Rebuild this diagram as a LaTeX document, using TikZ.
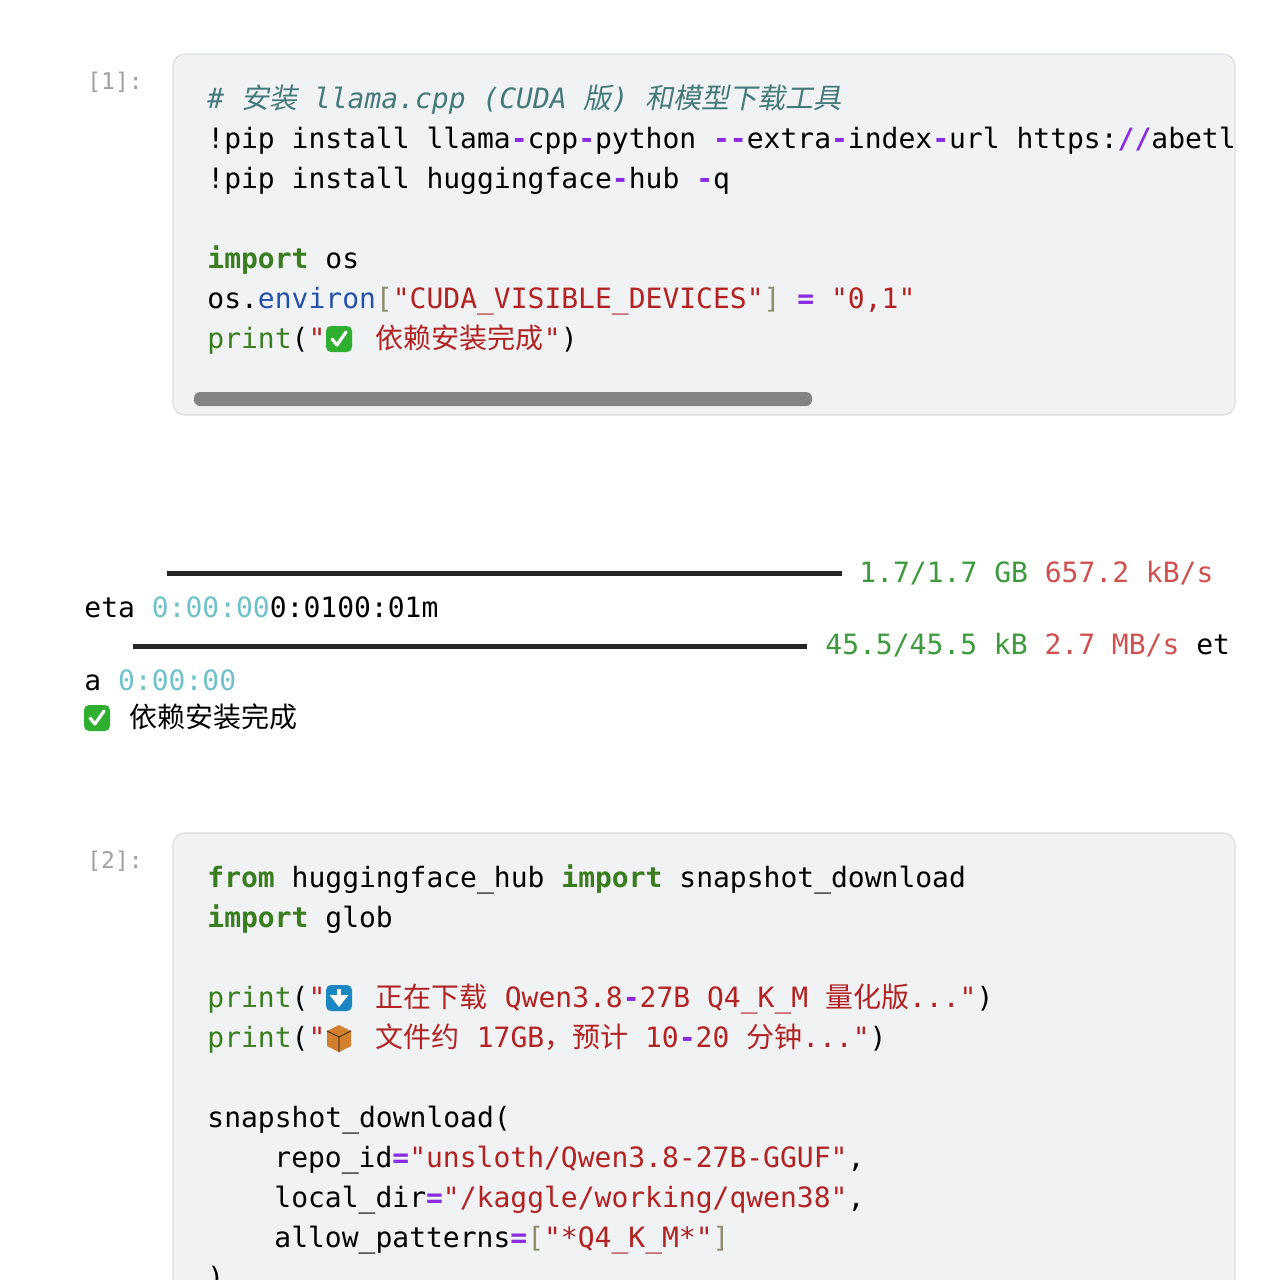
\documentclass[tikz,border=0pt]{standalone}
\usepackage{fontspec}
\usetikzlibrary{arrows.meta}
\setmonofont{DejaVu Sans Mono}
\setmainfont{Noto Sans}
\newfontfamily\cjk{Noto Sans CJK SC}
\newfontfamily\cjkit{Noto Sans CJK SC}[FakeSlant=0.2]
\usepackage{xcolor}
\definecolor{cellbg}{HTML}{F1F2F4}
\definecolor{cellrule}{HTML}{DCDDE0}
\definecolor{kw}{HTML}{3A7D1E}
\definecolor{str}{HTML}{B22222}
\definecolor{op}{HTML}{8A2BE2}
\definecolor{cmt}{HTML}{457A7A}
\definecolor{attr}{HTML}{2552A8}
\definecolor{brk}{HTML}{8F8F70}
\definecolor{ogreen}{HTML}{3C9A3C}
\definecolor{ored}{HTML}{D05050}
\definecolor{ocyan}{HTML}{6FC2CA}
\definecolor{prompt}{HTML}{A0A0A0}
\newcommand{\kw}[1]{\textcolor{kw}{\bfseries #1}}
\newcommand{\str}[1]{\textcolor{str}{#1}}
\newcommand{\op}[1]{\textcolor{op}{\bfseries #1}}
\newcommand{\zh}[1]{{\cjk #1}}
\newcommand{\gap}{\phantom{xx}}
\tikzset{
  code/.style={anchor=base west,inner sep=0,font=\ttfamily\fontsize{14}{14}\selectfont},
  outtxt/.style={code},
  prompt/.style={anchor=base west,inner sep=0,text=prompt,font=\ttfamily\fontsize{11.5}{12}\selectfont},
  cell/.style={draw=cellrule,fill=cellbg,rounded corners=6pt,line width=0.6pt},
  bar/.style={line width=2.5pt,black!85}
}
\begin{document}
\begin{tikzpicture}[x=0.5pt,y=-0.5pt]
\useasboundingbox (0,0) rectangle (1274,1280);
% cell 1
\draw[cell] (173,54) rectangle (1235,415);
\node[prompt] (p1) at (87,89) {[1]:};
\begin{scope}
\clip (173,54) rectangle (1233,415);
\node[code,text=cmt] (c1) at (207,108) {\itshape \# {\cjkit 安装} llama.cpp (CUDA {\cjkit 版}) {\cjkit 和模型下载工具}};
\node[code] (c2) at (207,148) {!pip install llama\op{-}cpp\op{-}python \op{--}extra\op{-}index\op{-}url https:\op{//}abetlen.github.io};
\end{scope}
\node[code] (c3) at (207,188) {!pip install huggingface\op{-}hub \op{-}q};
\node[code] (c4) at (207,268) {\kw{import} os};
\node[code] (c5) at (207,308) {os.\textcolor{attr}{environ}\textcolor{brk}{[}\str{"CUDA\_VISIBLE\_DEVICES"}\textcolor{brk}{]} \op{=} \str{"0,1"}};
\node[code] (c6) at (207,348) {\textcolor{kw}{print}(\str{"\gap{} \zh{依赖安装完成}"})};
\fill[rounded corners=3pt,fill=gray!70!black!75] (194,392) rectangle (812,406);
% check icons
\foreach \cx/\cy in {339/339, 97/718} {
  \fill[ogreen!80!green,rounded corners=2.5pt] (\cx-13,\cy-13) rectangle (\cx+13,\cy+13);
  \draw[white,line width=1.6pt,line cap=round,line join=round] (\cx-7,\cy) -- (\cx-2,\cy+6) -- (\cx+7,\cy-7);
}
% output
\draw[bar] (167,573) -- (842,573);
\node[outtxt] (o1) at (859,582) {\textcolor{ogreen}{1.7/1.7 GB} \textcolor{ored}{657.2 kB/s}};
\node[outtxt] (o2) at (84,617) {eta \textcolor{ocyan}{0:00:00}0:0100:01m};
\draw[bar] (133,646) -- (807,646);
\node[outtxt] (o3) at (825,654) {\textcolor{ogreen}{45.5/45.5 kB} \textcolor{ored}{2.7 MB/s} et};
\node[outtxt] (o4) at (84,690) {a \textcolor{ocyan}{0:00:00}};
\node[anchor=base west,inner sep=0,font=\cjk\fontsize{14}{14}\selectfont] (o5) at (129,727) {依赖安装完成};
% cell 2
\draw[cell] (173,833) rectangle (1235,1320);
\node[prompt] (p2) at (87,868) {[2]:};
\node[code] (d1) at (207,887) {\kw{from} huggingface\_hub \kw{import} snapshot\_download};
\node[code] (d2) at (207,927) {\kw{import} glob};
\node[code] (d3) at (207,1007) {\textcolor{kw}{print}(\str{"\gap{} \zh{正在下载} Qwen3.8\op{-}27B Q4\_K\_M \zh{量化版}..."})};
\node[code] (d4) at (207,1047) {\textcolor{kw}{print}(\str{"\gap{} \zh{文件约} 17GB\zh{，预计} 10\op{-}20 \zh{分钟}..."})};
\node[code] (d5) at (207,1127) {snapshot\_download(};
\node[code] (d6) at (274,1167) {repo\_id\op{=}\str{"unsloth/Qwen3.8-27B-GGUF"},};
\node[code] (d7) at (274,1207) {local\_dir\op{=}\str{"/kaggle/working/qwen38"},};
\node[code] (d8) at (274,1247) {allow\_patterns\op{=}\textcolor{brk}{[}\str{"*Q4\_K\_M*"}\textcolor{brk}{]}};
\node[code] (d9) at (207,1287) {)};
% download icon
\fill[attr!70!cyan,rounded corners=2.5pt] (326,985) rectangle (352,1011);
\draw[white,line width=2pt,-{Triangle[length=6pt,width=9pt]}] (339,989) -- (339,1007);
% package icon
\fill[brown!70!orange] (327,1031) -- (339,1025) -- (351,1031) -- (351,1046) -- (339,1052) -- (327,1046) -- cycle;
\draw[brown!50!black,line width=0.6pt] (327,1031) -- (339,1037) -- (351,1031) (339,1037) -- (339,1052);
\end{tikzpicture}
\end{document}
